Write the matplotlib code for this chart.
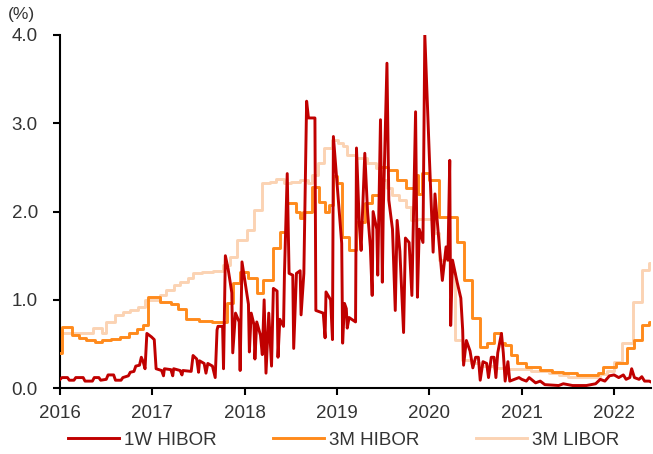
import numpy as np
import matplotlib
matplotlib.use("Agg")
import matplotlib.pyplot as plt

plt.rcParams['font.family'] = ['Liberation Sans', 'DejaVu Sans']

# 1W HIBOR (decimal year, %)
hibor1w_t = [2016.00, 2016.02, 2016.08, 2016.10, 2016.15, 2016.17, 2016.25, 2016.27, 2016.35, 2016.37,
             2016.42, 2016.44, 2016.50, 2016.52, 2016.58, 2016.60, 2016.66, 2016.68, 2016.74, 2016.76,
             2016.80, 2016.82, 2016.86, 2016.88, 2016.90, 2016.92, 2016.94, 2016.99, 2017.02, 2017.04,
             2017.10, 2017.12, 2017.13, 2017.20, 2017.22, 2017.23, 2017.30, 2017.32, 2017.33, 2017.42,
             2017.44, 2017.48, 2017.50, 2017.51, 2017.56, 2017.58, 2017.60, 2017.65, 2017.68, 2017.70,
             2017.71, 2017.76, 2017.77, 2017.79, 2017.82, 2017.86, 2017.87, 2017.90, 2017.94, 2017.95,
             2017.97, 2018.04, 2018.05, 2018.07, 2018.10, 2018.11, 2018.13, 2018.17, 2018.19, 2018.21,
             2018.23, 2018.26, 2018.29, 2018.31, 2018.35, 2018.36, 2018.38, 2018.42, 2018.43, 2018.46,
             2018.48, 2018.52, 2018.53, 2018.56, 2018.60, 2018.61, 2018.64, 2018.67, 2018.69, 2018.76,
             2018.77, 2018.85, 2018.87, 2018.88, 2018.93, 2018.95, 2018.96, 2019.05, 2019.06, 2019.08,
             2019.10, 2019.11, 2019.13, 2019.20, 2019.21, 2019.24, 2019.26, 2019.30, 2019.33, 2019.36,
             2019.38, 2019.39, 2019.43, 2019.44, 2019.47, 2019.49, 2019.50, 2019.54, 2019.56, 2019.60,
             2019.63, 2019.65, 2019.68, 2019.72, 2019.74, 2019.78, 2019.81, 2019.85, 2019.87, 2019.89,
             2019.93, 2019.95, 2020.00, 2020.04, 2020.06, 2020.10, 2020.14, 2020.18, 2020.20, 2020.22,
             2020.23, 2020.25, 2020.30, 2020.34, 2020.36, 2020.37, 2020.40, 2020.44, 2020.47, 2020.50,
             2020.53, 2020.55, 2020.58, 2020.62, 2020.64, 2020.67, 2020.70, 2020.72, 2020.74, 2020.78,
             2020.80, 2020.82, 2020.85, 2020.87, 2020.92, 2020.97, 2021.00, 2021.05, 2021.08, 2021.15,
             2021.20, 2021.25, 2021.40, 2021.45, 2021.55, 2021.70, 2021.80, 2021.85, 2021.90, 2021.95,
             2022.00, 2022.05, 2022.10, 2022.13, 2022.17, 2022.19, 2022.22, 2022.27, 2022.30, 2022.33,
             2022.38, 2022.40]
hibor1w_v = [0.10, 0.12, 0.12, 0.09, 0.09, 0.12, 0.12, 0.08, 0.08, 0.12,
             0.12, 0.09, 0.10, 0.15, 0.15, 0.09, 0.09, 0.12, 0.14, 0.18,
             0.19, 0.25, 0.26, 0.35, 0.30, 0.22, 0.62, 0.58, 0.55, 0.22,
             0.20, 0.14, 0.22, 0.21, 0.14, 0.22, 0.20, 0.15, 0.20, 0.19,
             0.37, 0.33, 0.18, 0.31, 0.28, 0.17, 0.28, 0.25, 0.12, 0.66,
             0.70, 0.70, 0.22, 1.50, 1.35, 1.08, 0.40, 0.85, 0.75, 0.20,
             1.43, 0.95, 0.41, 0.85, 0.72, 0.33, 0.75, 0.60, 0.38, 1.00,
             0.17, 0.85, 0.25, 1.13, 1.10, 0.35, 0.78, 0.70, 1.30, 2.43,
             1.30, 1.28, 0.45, 1.30, 1.33, 0.83, 1.30, 3.25, 3.06, 3.06,
             0.88, 0.85, 0.57, 1.09, 1.00, 0.55, 2.85, 1.64, 0.51, 0.96,
             0.90, 0.68, 0.80, 0.75, 2.72, 1.87, 1.56, 2.66, 2.00, 1.60,
             1.05, 2.00, 1.80, 1.28, 3.04, 1.20, 2.00, 3.68, 2.13, 1.80,
             0.88, 1.90, 1.55, 0.63, 1.70, 1.65, 1.05, 3.13, 1.03, 1.80,
             1.65, 4.00, 2.60, 1.54, 2.20, 1.70, 1.22, 1.60, 1.45, 2.58,
             0.71, 1.45, 1.20, 1.02, 0.66, 0.26, 0.54, 0.42, 0.23, 0.35,
             0.35, 0.09, 0.30, 0.28, 0.12, 0.35, 0.35, 0.12, 0.40, 0.62,
             0.40, 0.08, 0.30, 0.08, 0.10, 0.12, 0.10, 0.08, 0.12, 0.06,
             0.08, 0.04, 0.03, 0.05, 0.03, 0.03, 0.05, 0.10, 0.08, 0.14,
             0.15, 0.12, 0.15, 0.10, 0.12, 0.22, 0.12, 0.10, 0.13, 0.08,
             0.08, 0.07]

# 3M HIBOR, step changes (decimal year, %)
hibor3m_t = [2016.00, 2016.02, 2016.13, 2016.20, 2016.28, 2016.38, 2016.45, 2016.55, 2016.65, 2016.75,
             2016.83, 2016.90, 2016.95, 2017.08, 2017.20, 2017.28, 2017.36, 2017.50, 2017.65, 2017.81,
             2017.87, 2017.95, 2018.04, 2018.13, 2018.20, 2018.31, 2018.38, 2018.46, 2018.55, 2018.60,
             2018.63, 2018.73, 2018.80, 2018.87, 2018.91, 2018.96, 2019.00, 2019.05, 2019.13, 2019.20,
             2019.30, 2019.38, 2019.47, 2019.55, 2019.65, 2019.75, 2019.83, 2019.88, 2019.92, 2020.00,
             2020.10, 2020.30, 2020.37, 2020.46, 2020.55, 2020.62, 2020.70, 2020.78, 2020.82, 2020.88,
             2020.95, 2021.05, 2021.20, 2021.33, 2021.45, 2021.60, 2021.83, 2021.88, 2022.02, 2022.14,
             2022.22, 2022.30, 2022.38, 2022.40]
hibor3m_v = [0.40, 0.69, 0.60, 0.57, 0.55, 0.52, 0.55, 0.56, 0.58, 0.62,
             0.67, 0.72, 1.03, 0.98, 0.95, 0.90, 0.78, 0.76, 0.75, 0.97,
             1.19, 1.32, 1.25, 1.08, 1.22, 1.59, 1.77, 2.10, 2.00, 1.93,
             2.00, 2.28, 2.11, 2.00, 2.07, 2.40, 2.32, 1.71, 1.56, 1.88,
             2.10, 2.19, 2.50, 2.47, 2.36, 2.27, 2.41, 2.20, 2.44, 2.36,
             1.94, 1.65, 1.22, 0.80, 0.47, 0.51, 0.63, 0.51, 0.49, 0.37,
             0.28, 0.24, 0.21, 0.18, 0.17, 0.15, 0.17, 0.24, 0.28, 0.45,
             0.54, 0.71, 0.75, 0.75]

# 3M LIBOR, step changes (decimal year, %)
libor3m_t = [2016.00, 2016.36, 2016.45, 2016.50, 2016.60, 2016.68, 2016.76, 2016.84, 2016.92, 2017.08,
             2017.15, 2017.23, 2017.30, 2017.38, 2017.44, 2017.54, 2017.66, 2017.76, 2017.84, 2017.92,
             2018.02, 2018.10, 2018.19, 2018.27, 2018.34, 2018.42, 2018.50, 2018.60, 2018.68, 2018.73,
             2018.79, 2018.86, 2018.94, 2019.01, 2019.06, 2019.11, 2019.21, 2019.32, 2019.42, 2019.48,
             2019.54, 2019.60, 2019.67, 2019.75, 2019.80, 2019.87, 2020.05, 2020.10, 2020.23, 2020.28,
             2020.35, 2020.45, 2020.55, 2020.70, 2020.85, 2021.00, 2021.10, 2021.20, 2021.30, 2021.40,
             2021.50, 2021.75, 2021.85, 2021.92, 2022.00, 2022.09, 2022.20, 2022.30, 2022.38, 2022.40]
libor3m_v = [0.62, 0.68, 0.63, 0.75, 0.83, 0.86, 0.88, 0.92, 1.00, 1.05,
             1.11, 1.17, 1.20, 1.25, 1.30, 1.32, 1.33, 1.39, 1.49, 1.68,
             1.79, 2.02, 2.32, 2.34, 2.37, 2.32, 2.34, 2.36, 2.32, 2.41,
             2.55, 2.72, 2.81, 2.78, 2.74, 2.64, 2.61, 2.55, 2.49, 2.36,
             2.27, 2.19, 2.13, 2.05, 1.90, 1.92, 1.76, 1.45, 1.30, 0.55,
             0.32, 0.28, 0.25, 0.23, 0.22, 0.22, 0.20, 0.19, 0.17, 0.15,
             0.13, 0.13, 0.16, 0.20, 0.30, 0.51, 0.98, 1.34, 1.42, 1.42]

years = [2016, 2017, 2018, 2019, 2020, 2021, 2022]
yticks = [0.0, 1.0, 2.0, 3.0, 4.0]

fig = plt.figure(figsize=(6.53, 4.54), dpi=100)
ax = fig.add_axes([0.092, 0.145, 0.905, 0.778])

ax.plot(libor3m_t, libor3m_v, drawstyle='steps-post', color='#FBD3B3', lw=2.1, label='3M LIBOR', zorder=2)
ax.plot(hibor3m_t, hibor3m_v, drawstyle='steps-post', color='#FF8A1C', lw=2.1, label='3M HIBOR', zorder=3)
ax.plot(hibor1w_t, hibor1w_v, color='#C00000', lw=2.1, label='1W HIBOR', zorder=4)

ax.set_xlim(2016, 2022.40)
ax.set_ylim(0, 4.0)
ax.set_xticks(years)
ax.set_xticklabels([str(y) for y in years])
ax.set_yticks(yticks)
ax.set_yticklabels([f"{v:.1f}" for v in yticks])

for s in ['top', 'right']:
    ax.spines[s].set_visible(False)
for s in ['left', 'bottom']:
    ax.spines[s].set_linewidth(1.5)
    ax.spines[s].set_color('black')
ax.tick_params(axis='both', direction='out', length=5, width=1.5, labelsize=13.5,
               color='black', labelcolor='#333333')
ax.tick_params(axis='x', pad=7)
ax.tick_params(axis='y', pad=11)

# unit label above the y axis
fig.text(0.012, 0.985, "(%)", fontsize=12.5, color='#333333', va='top')

handles, labels = ax.get_legend_handles_labels()
order = [2, 1, 0]
ax.legend([handles[i] for i in order], [labels[i] for i in order],
          loc='upper center', bbox_to_anchor=(0.48, -0.075), ncol=3, frameon=False,
          fontsize=13.5, handlelength=2.7, columnspacing=3.0, handletextpad=0.3,
          labelcolor='#333333')

fig.savefig("out.png", dpi=100)
